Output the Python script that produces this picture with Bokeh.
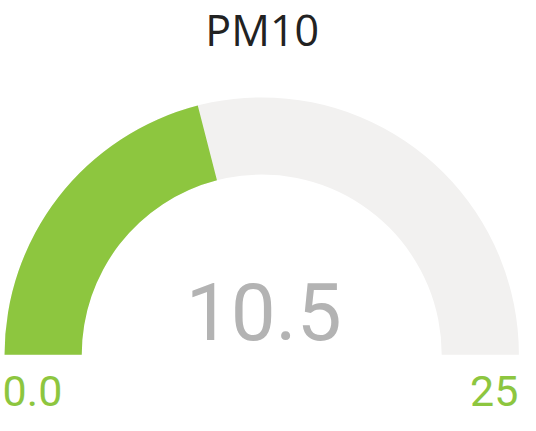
import math
from bokeh.plotting import figure
from bokeh.models import Range1d, ColumnDataSource
from bokeh.core.properties import value
from bokeh.embed import file_html
from bokeh.resources import INLINE

# ---- data ----
title_text = "PM10"
gauge_min = [0.0]
gauge_max = [25.0]
gauge_value = [10.5]
value_label = ["10.5"]
min_label = ["0.0"]
max_label = ["25"]

GREEN = "#8dc63f"
TRACK = "#f2f1f0"

W, H = 520, 415
# data space in reference pixels (y up), equal scaling
s = 0.965
xw = W / s
yh = H / s
x0 = -1.2
p = figure(width=W, height=H, output_backend="svg", toolbar_location=None,
           x_range=Range1d(x0, x0 + xw), y_range=Range1d(431 - yh, 431),
           min_border=0, outline_line_color=None)
p.axis.visible = False
p.grid.visible = False
p.background_fill_color = "white"
p.border_fill_color = "white"

cx, cy = 269.5, 431 - 367
r_out, r_in = 266.5, 186.5

frac = (gauge_value[0] - gauge_min[0]) / (gauge_max[0] - gauge_min[0])

track = ColumnDataSource(dict(x=[cx], y=[cy], s=[0.0], e=[math.pi]))
p.annular_wedge(x="x", y="y", inner_radius=r_in, outer_radius=r_out,
                start_angle="s", end_angle="e", source=track,
                fill_color=TRACK, line_color=None)

bar = ColumnDataSource(dict(x=[cx], y=[cy], s=[math.pi * (1 - frac)], e=[math.pi]))
p.annular_wedge(x="x", y="y", inner_radius=r_in, outer_radius=r_out,
                start_angle="s", end_angle="e", source=bar,
                fill_color=GREEN, line_color=None)

# title
p.text(x=[270], y=[431 - 41 + 11], text=[title_text], text_align="center",
       text_baseline="alphabetic", text_font=value("Open Sans"),
       text_font_size="43px", text_color="#222222")

# value
p.text(x=[cx + 2], y=[431 - 350 + 28], text=value_label, text_align="center",
       text_baseline="alphabetic", text_font=value("Roboto"),
       text_font_size="80px", text_color="#b3b3b3")

# min / max labels
p.text(x=[1], y=[431 - 425 + 20], text=min_label, text_align="left",
       text_baseline="alphabetic", text_font=value("Roboto"),
       text_font_size="43px", text_color=GREEN)
p.text(x=[535.5], y=[431 - 425 + 20], text=max_label, text_align="right",
       text_baseline="alphabetic", text_font=value("Roboto"),
       text_font_size="43px", text_color=GREEN)

open("out.html", "w").write(file_html(p, INLINE))
